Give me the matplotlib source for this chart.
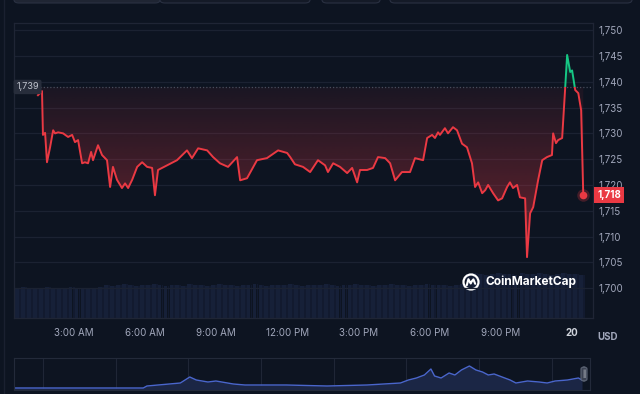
import numpy as np
import matplotlib
matplotlib.use("Agg")
import matplotlib.pyplot as plt
from matplotlib.patches import Rectangle, Circle, PathPatch, FancyBboxPatch
from matplotlib.lines import Line2D
from matplotlib.colors import to_rgb
from matplotlib.transforms import IdentityTransform

plt.rcParams['font.family'] = ['Inter', 'DejaVu Sans']

# colours of the dark theme
BG = '#0d1421'
RED = '#ea3943'
GREEN = '#16c784'
GRID = '#1b2232'
TXT = '#a1a7bb'

# price, hours since midnight of day 19 (24 = midnight of day 20)
hours = [1.50, 1.59, 1.67, 1.71, 1.80, 1.88, 2.01, 2.14, 2.22, 2.35,
         2.56, 2.77, 2.94, 3.06, 3.19, 3.36, 3.48, 3.61, 3.74, 3.82,
         4.03, 4.20, 4.41, 4.54, 4.66, 4.83, 5.04, 5.17, 5.30, 5.47,
         5.68, 5.89, 6.10, 6.31, 6.43, 6.56, 6.94, 7.36, 7.78, 7.99,
         8.25, 8.63, 8.88, 9.17, 9.51, 9.89, 10.02, 10.31, 10.73, 11.15,
         11.62, 12.00, 12.13, 12.33, 12.67, 12.97, 13.30, 13.60, 13.72, 13.94,
         14.23, 14.53, 14.74, 14.95, 15.07, 15.37, 15.62, 15.83, 16.13, 16.34,
         16.55, 16.84, 17.18, 17.39, 17.73, 17.90, 18.11, 18.23, 18.36, 18.44,
         18.65, 18.78, 18.99, 19.16, 19.37, 19.58, 19.79, 19.92, 20.05, 20.22,
         20.35, 20.47, 20.68, 20.89, 21.06, 21.27, 21.39, 21.52, 21.69, 21.81,
         22.03, 22.11, 22.24, 22.37, 22.58, 22.75, 22.95, 23.16, 23.21, 23.33,
         23.42, 23.59, 23.72, 23.80, 23.93, 24.01, 24.14, 24.27, 24.39, 24.48]
price = [1737.4, 1737.8, 1738.2, 1729.7, 1730.1, 1724.4, 1727.3, 1730.6, 1730.0, 1730.2,
         1730.0, 1729.3, 1729.7, 1728.3, 1728.7, 1724.2, 1724.4, 1724.2, 1726.4, 1724.8,
         1727.7, 1725.8, 1724.8, 1719.6, 1723.5, 1721.0, 1719.4, 1720.3, 1719.4, 1721.0,
         1723.5, 1724.4, 1723.5, 1723.3, 1718.0, 1722.9, 1723.8, 1724.8, 1726.7, 1725.2,
         1727.1, 1726.7, 1725.4, 1724.2, 1723.5, 1725.4, 1720.9, 1721.3, 1724.8, 1725.2,
         1726.7, 1726.2, 1725.4, 1724.0, 1723.5, 1722.5, 1724.8, 1723.8, 1722.5, 1724.2,
         1723.5, 1722.3, 1723.3, 1720.5, 1722.9, 1722.9, 1723.3, 1725.4, 1725.2, 1724.2,
         1720.9, 1722.5, 1722.5, 1725.2, 1724.8, 1729.1, 1729.7, 1729.1, 1730.2, 1729.7,
         1731.0, 1730.0, 1731.2, 1730.6, 1728.0, 1727.3, 1724.2, 1719.6, 1720.5, 1718.4,
         1719.0, 1720.0, 1718.4, 1717.0, 1717.4, 1719.6, 1720.5, 1719.4, 1720.0, 1717.6,
         1717.4, 1706.0, 1714.5, 1715.7, 1721.0, 1724.8, 1725.4, 1725.8, 1730.0, 1728.1,
         1728.7, 1729.1, 1739.0, 1745.2, 1741.9, 1742.2, 1738.4, 1737.8, 1734.5, 1718.0]
baseline = 1739
last_price = 1718

# 15 minute volume bars from 0:30 on
vol_start = 0.5
volume = [3.0, 3.1, 2.9, 3.0, 3.0, 3.1, 3.0, 2.9, 3.0, 3.1, 3.0, 3.0, 2.9, 3.0, 3.1,
          3.3, 3.2, 3.3, 3.4, 3.3, 3.2, 3.3, 3.3, 3.4, 3.3, 3.2, 3.3, 3.3, 3.2, 3.4,
          3.3, 3.3, 3.2, 3.3, 3.4, 3.3, 3.3, 3.2, 3.3, 3.3, 3.4, 3.3, 3.2, 3.3, 3.3,
          3.3, 3.4, 3.3, 3.2, 3.3, 3.3, 3.3, 3.4, 3.3, 3.2, 3.3, 3.3, 3.4, 3.3, 3.3,
          3.2, 3.3, 3.3, 3.4, 3.3, 3.3, 3.2, 3.3, 3.3, 3.4, 3.3, 3.3, 3.3, 3.2, 3.3,
          3.4, 4.4, 4.5, 4.4, 4.3, 4.4, 4.5, 4.4, 4.4, 4.3, 4.5, 4.4, 4.4, 4.5, 4.4,
          4.3, 4.4, 4.5, 4.4, 4.4, 4.3]

y_ticks = [1700, 1705, 1710, 1715, 1720, 1725, 1730, 1735, 1740, 1745, 1750]
x_ticks = [3, 6, 9, 12, 15, 18, 21, 24]
x_labels = ['3:00 AM', '6:00 AM', '9:00 AM', '12:00 PM', '3:00 PM', '6:00 PM', '9:00 PM', '20']

# navigator (longer history), days and relative level
nav_days = [-0.40, 1.38, 1.43, 1.89, 2.02, 2.11, 2.27, 2.38, 2.62, 2.78,
            3.35, 3.91, 4.46, 4.92, 5.03, 5.14, 5.25, 5.34, 5.39, 5.48,
            5.59, 5.67, 5.76, 5.87, 5.96, 6.05, 6.13, 6.21, 6.32, 6.43,
            6.51, 6.67, 6.83, 6.94, 7.05, 7.22, 7.37, 7.42]
nav_level = [2, 2, 4, 7, 13, 10, 8, 9, 6, 5,
             5, 4, 5, 7, 10, 12, 15, 21, 14, 12,
             17, 15, 20, 24, 20, 18, 15, 16, 13, 10,
             7, 9, 8, 7, 9, 10, 12, 10]

W, H = 640, 394


def fx(px):
    return px / W


def fy(py):
    return 1 - py / H


fig = plt.figure(figsize=(6.4, 3.94), dpi=100, facecolor=BG)

# tab buttons cut off at the top
for x0, x1, fc in [(14, 160, '#1f2533'), (160, 310, '#141a27'), (322, 380, '#141a27'), (390, 632, '#141a27')]:
    fig.add_artist(FancyBboxPatch((fx(x0), fy(3)), fx(x1 - x0), 14 / H,
                                  boxstyle='round,pad=0,rounding_size=0.008',
                                  transform=fig.transFigure, fc=fc, ec='#2a3142', lw=0.8))
fig.add_artist(Line2D([fx(4), fx(4)], [0, 1], transform=fig.transFigure, color='#1a2030', lw=1))

ax = fig.add_axes([fx(14), fy(318), fx(579), 295 / H])
vax = ax.twinx()
ax.set_zorder(vax.get_zorder() + 1)
ax.patch.set_visible(False)

# volume
vol_x = vol_start + 0.125 + 0.25 * np.arange(len(volume))
vax.bar(vol_x, volume, width=0.16, color='#162038', edgecolor='none')
vax.bar(vol_x + 0.125, volume, width=0.08, color='#121a2f', edgecolor='none')
vax.set_ylim(0, 29.5)
vax.set_yticks([])
for s in vax.spines.values():
    s.set_visible(False)

xlim = (0.49, 24.89)
ylim = (1694.2, 1751.4)
hrs = np.array(hours)
pr = np.array(price)

# gradient areas between price and the open price
below = ax.fill_between(hrs, np.minimum(pr, baseline), baseline, color='none', lw=0)
above = ax.fill_between(hrs, np.maximum(pr, baseline), baseline, color='none', lw=0)
for coll, col, lo, hi, a_lo, a_hi in [(below, RED, 1704, baseline, 0.45, 0.06),
                                      (above, GREEN, baseline, 1746, 0.0, 0.35)]:
    patch = PathPatch(coll.get_paths()[0], transform=ax.transData, fc='none', ec='none')
    ax.add_patch(patch)
    rgba = np.zeros((256, 1, 4))
    rgba[..., :3] = to_rgb(col)
    rgba[..., 3] = np.linspace(a_lo, a_hi, 256)[:, None]
    im = ax.imshow(rgba, extent=[xlim[0], xlim[1], lo, hi], origin='lower',
                   aspect='auto', zorder=1, interpolation='bilinear')
    im.set_clip_path(patch)

# price line: red below the open, green above
red_line, = ax.plot(hrs, pr, color=RED, lw=1.4, zorder=3)
red_line.set_clip_path(Rectangle((0, 1680), 30, baseline - 1680, transform=ax.transData))
green_line, = ax.plot(hrs, pr, color=GREEN, lw=1.4, zorder=3)
green_line.set_clip_path(Rectangle((0, baseline), 30, 40, transform=ax.transData))

ax.axhline(baseline, color='#474d5d', lw=0.9, ls=(0, (1, 1.6)), zorder=2)
ax.plot(hrs[-1], pr[-1], 'o', ms=9, color=RED, alpha=0.25, mec='none', zorder=4)
ax.plot(hrs[-1], pr[-1], 'o', ms=5.5, color=RED, mec='none', zorder=5)

ax.set_xlim(*xlim)
ax.set_ylim(*ylim)

ax.yaxis.tick_right()
ax.set_yticks(y_ticks)
ax.set_yticklabels([f'{v:,}' for v in y_ticks])
ax.set_xticks(x_ticks)
ax.set_xticklabels(x_labels)
ax.tick_params(axis='y', length=0, pad=4, labelsize=7, labelcolor=TXT)
ax.tick_params(axis='x', length=0, pad=7, labelsize=7, labelcolor=TXT)
lab20 = ax.get_xticklabels()[-1]
lab20.set_fontweight('bold')
lab20.set_color('#d0d4dc')
ax.yaxis.grid(True, color=GRID, lw=0.9)
ax.set_axisbelow(True)
for s in ax.spines.values():
    s.set_color('#1f2535')
    s.set_linewidth(0.9)

# labels for the open and last price
ax.annotate(f'{baseline:,}', xy=(0.004, baseline), xycoords=('axes fraction', 'data'),
            ha='left', va='center', fontsize=6.5, color='#c3c7d1', zorder=6,
            bbox=dict(boxstyle='round,pad=0.3,rounding_size=0.2', fc='#272d3b', ec='none'))
ax.annotate(f'{last_price:,}', xy=(1.0, last_price), xycoords=('axes fraction', 'data'),
            xytext=(3, 0), textcoords='offset points', ha='left', va='center',
            fontsize=7, fontweight='bold', color='white', zorder=6, annotation_clip=False,
            bbox=dict(boxstyle='square,pad=0.32', fc=RED, ec='none'))

fig.text(fx(608), fy(337), 'USD', ha='center', va='center', fontsize=7,
         color=TXT, fontweight='bold')

# watermark
cx, cy = 471, H - 282
fig.add_artist(Circle((cx, cy), 7.5, transform=IdentityTransform(), fc='none', ec='white', lw=1.6))
fig.add_artist(Line2D([cx - 4.2, cx - 2.6, cx - 0.3, cx + 0.6, cx + 2.4, cx + 4.2],
                      [cy - 3.2, cy + 2.8, cy - 1.5, cy + 0.4, cy + 2.6, cy - 1.8],
                      transform=IdentityTransform(), color='white', lw=1.5,
                      solid_joinstyle='round', solid_capstyle='round'))
fig.text(fx(486), fy(282), 'CoinMarketCap', ha='left', va='center', fontsize=8.6,
         fontweight='bold', color='white')

# navigator
nav = fig.add_axes([fx(14), fy(390), fx(576), 32 / H])
nav.set_facecolor(BG)
nav.fill_between(nav_days, nav_level, 0, color='#1b2645', lw=0)
nav.plot(nav_days, nav_level, color='#4a66cc', lw=1)
nav.set_xlim(-0.4, 7.53)
nav.set_ylim(0, 32)
nav.set_xticks(range(8))
nav.set_yticks([])
nav.xaxis.grid(True, color='#1f2636', lw=0.8)
nav.tick_params(length=0, labelbottom=False)
nav.set_axisbelow(True)
for s in nav.spines.values():
    s.set_color('#232a3a')
    s.set_linewidth(0.8)
fig.add_artist(FancyBboxPatch((fx(581), fy(381)), fx(6), 14 / H,
                              boxstyle='round,pad=0,rounding_size=0.005',
                              transform=fig.transFigure, fc='#3a4151', ec='#5c6474', lw=0.8))
fig.text(fx(584), fy(374), '||', ha='center', va='center', fontsize=4.5, color='#c0c4cc')

fig.savefig('out.png', dpi=100, facecolor=BG)
